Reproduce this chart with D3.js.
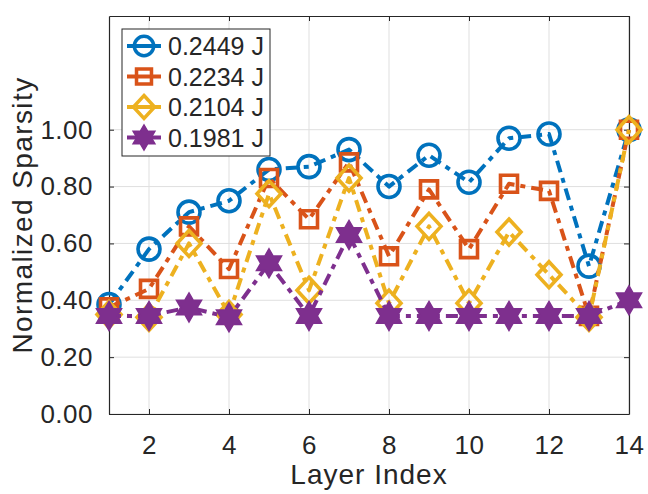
<!DOCTYPE html>
<html>
<head>
<meta charset="utf-8">
<script src="https://cdn.jsdelivr.net/npm/d3@7"></script>
<style>
  html, body { margin: 0; padding: 0; background: #fff; }
  svg { display: block; }
  text { font-family: "Liberation Sans", Arial, Helvetica, sans-serif; fill: #262626; }
</style>
</head>
<body>
<svg id="chart" width="648" height="494"></svg>
<script>
// Layer indices on the x axis
const layers = [1, 2, 3, 4, 5, 6, 7, 8, 9, 10, 11, 12, 13, 14];

// Normalized sparsity per layer, one array per energy budget
const sparsity2449 = [0.385, 0.58, 0.71, 0.75, 0.86, 0.87, 0.93, 0.80, 0.91, 0.815, 0.97, 0.985, 0.52, 1.00];
const sparsity2234 = [0.375, 0.44, 0.66, 0.51, 0.83, 0.685, 0.885, 0.555, 0.79, 0.58, 0.81, 0.785, 0.345, 1.00];
const sparsity2104 = [0.35, 0.34, 0.60, 0.35, 0.775, 0.435, 0.83, 0.39, 0.66, 0.39, 0.64, 0.49, 0.34, 1.00];
const sparsity1981 = [0.345, 0.345, 0.375, 0.34, 0.53, 0.345, 0.63, 0.345, 0.345, 0.345, 0.345, 0.345, 0.345, 0.40];

const seriesNames = ["0.2449 J", "0.2234 J", "0.2104 J", "0.1981 J"];
const seriesValues = [sparsity2449, sparsity2234, sparsity2104, sparsity1981];
const seriesColors = ["#0072BD", "#D95319", "#EDB120", "#7E2F8E"];
const seriesMarkers = ["circle", "square", "diamond", "hexagram"];

// Tick values
const xTicks = [2, 4, 6, 8, 10, 12, 14];
const yTicks = [0, 0.2, 0.4, 0.6, 0.8, 1.0];

const svg = d3.select("#chart");
const plot = { left: 109, right: 629, top: 16, bottom: 414 };

const x = d3.scaleLinear().domain([1, 14]).range([plot.left, plot.right]);
const y = d3.scaleLinear().domain([0, 1.4]).range([plot.bottom, plot.top]);

const axisColor = "#262626";
const gridColor = "#dfdfdf";

// Grid
const grid = svg.append("g");
grid.selectAll("line.gx").data(xTicks).join("line")
  .attr("x1", d => x(d)).attr("x2", d => x(d))
  .attr("y1", plot.top).attr("y2", plot.bottom)
  .attr("stroke", gridColor).attr("stroke-width", 1);
grid.selectAll("line.gy").data(yTicks).join("line")
  .attr("x1", plot.left).attr("x2", plot.right)
  .attr("y1", d => y(d)).attr("y2", d => y(d))
  .attr("stroke", gridColor).attr("stroke-width", 1);

// Axes (ticks pointing inward, box on all four sides)
function styleAxis(g) {
  g.selectAll("path.domain").attr("stroke", axisColor).attr("stroke-width", 1.2);
  g.selectAll(".tick line").attr("stroke", axisColor).attr("stroke-width", 1);
  g.selectAll(".tick text").attr("fill", axisColor)
    .style("font-family", "'Liberation Sans', Arial, sans-serif");
}

const xAxis = svg.append("g").attr("transform", `translate(0,${plot.bottom})`)
  .call(d3.axisBottom(x).tickValues(xTicks).tickSizeInner(-5).tickSizeOuter(0).tickPadding(22)
    .tickFormat(d3.format("d")));
xAxis.selectAll(".tick text").attr("font-size", 26).attr("letter-spacing", 0.5);
styleAxis(xAxis);

const xAxisTop = svg.append("g").attr("transform", `translate(0,${plot.top})`)
  .call(d3.axisTop(x).tickValues(xTicks).tickSizeInner(-5).tickSizeOuter(0).tickFormat(""));
styleAxis(xAxisTop);

const yAxis = svg.append("g").attr("transform", `translate(${plot.left},0)`)
  .call(d3.axisLeft(y).tickValues(yTicks).tickSizeInner(-5).tickSizeOuter(0).tickPadding(16)
    .tickFormat(d3.format(".2f")));
yAxis.selectAll(".tick text").attr("font-size", 26).attr("letter-spacing", 0.5);
styleAxis(yAxis);

const yAxisRight = svg.append("g").attr("transform", `translate(${plot.right},0)`)
  .call(d3.axisRight(y).tickValues(yTicks).tickSizeInner(-5).tickSizeOuter(0).tickFormat(""));
styleAxis(yAxisRight);

// Axis labels
svg.append("text")
  .attr("x", x(7.5)).attr("y", 484)
  .attr("text-anchor", "middle")
  .attr("font-size", 28).attr("letter-spacing", 1)
  .text("Layer Index");

svg.append("text")
  .attr("transform", `translate(32,${(plot.top + plot.bottom) / 2}) rotate(-90)`)
  .attr("text-anchor", "middle")
  .attr("font-size", 28).attr("letter-spacing", 1.4)
  .text("Normalized Sparsity");

// Marker shapes
function markerPath(kind) {
  if (kind === "circle") {
    const r = 11;
    return `M${r},0A${r},${r} 0 1,1 ${-r},0A${r},${r} 0 1,1 ${r},0Z`;
  }
  if (kind === "square") {
    const h = 8.5;
    return `M${-h},${-h}H${h}V${h}H${-h}Z`;
  }
  if (kind === "diamond") {
    const w = 12, hh = 13;
    return `M0,${-hh}L${w},0L0,${hh}L${-w},0Z`;
  }
  // six-pointed star
  const R = 14.5, r = R / Math.sqrt(3);
  const pts = d3.range(12).map(i => {
    const a = -Math.PI / 2 + i * Math.PI / 6;
    const rad = i % 2 === 0 ? R : r;
    return [rad * Math.cos(a), rad * Math.sin(a)];
  });
  return "M" + pts.map(p => p.join(",")).join("L") + "Z";
}

const dashPattern = "12,6,5,6";
const line = d3.line().x(d => x(d[0])).y(d => y(d[1]));

// Series: line then markers, drawn one series at a time
seriesValues.forEach((vals, i) => {
  const pts = layers.map((l, j) => [l, vals[j]]);
  const g = svg.append("g");
  g.append("path").datum(pts)
    .attr("d", line)
    .attr("fill", "none")
    .attr("stroke", seriesColors[i])
    .attr("stroke-width", 4)
    .attr("stroke-dasharray", dashPattern)
    .attr("stroke-linejoin", "round");
  const filled = seriesMarkers[i] === "hexagram";
  g.selectAll("path.m").data(pts).join("path")
    .attr("class", "m")
    .attr("transform", d => `translate(${x(d[0])},${y(d[1])})`)
    .attr("d", markerPath(seriesMarkers[i]))
    .attr("fill", filled ? seriesColors[i] : "none")
    .attr("stroke", seriesColors[i])
    .attr("stroke-width", filled ? 1.5 : 3.6)
    .attr("stroke-linejoin", "miter");
});

// Legend
const legend = svg.append("g");
legend.append("rect")
  .attr("x", 122).attr("y", 29).attr("width", 148).attr("height", 127)
  .attr("fill", "#fff").attr("stroke", axisColor).attr("stroke-width", 1);

seriesNames.forEach((name, i) => {
  const cy = 46 + i * 30.5;
  const row = legend.append("g");
  row.append("line")
    .attr("x1", 127).attr("x2", 161).attr("y1", cy).attr("y2", cy)
    .attr("stroke", seriesColors[i]).attr("stroke-width", 4);
  const filled = seriesMarkers[i] === "hexagram";
  row.append("path")
    .attr("transform", `translate(144,${cy}) scale(0.88)`)
    .attr("d", markerPath(seriesMarkers[i]))
    .attr("fill", filled ? seriesColors[i] : "#fff")
    .attr("stroke", seriesColors[i])
    .attr("stroke-width", filled ? 1.5 : 4);
  if (!filled) {
    row.append("line")
      .attr("x1", 136).attr("x2", 152).attr("y1", cy).attr("y2", cy)
      .attr("stroke", seriesColors[i]).attr("stroke-width", 4);
  }
  row.append("text")
    .attr("x", 168).attr("y", cy)
    .attr("dy", "0.36em")
    .attr("font-size", 25)
    .text(name);
});
</script>
</body>
</html>
